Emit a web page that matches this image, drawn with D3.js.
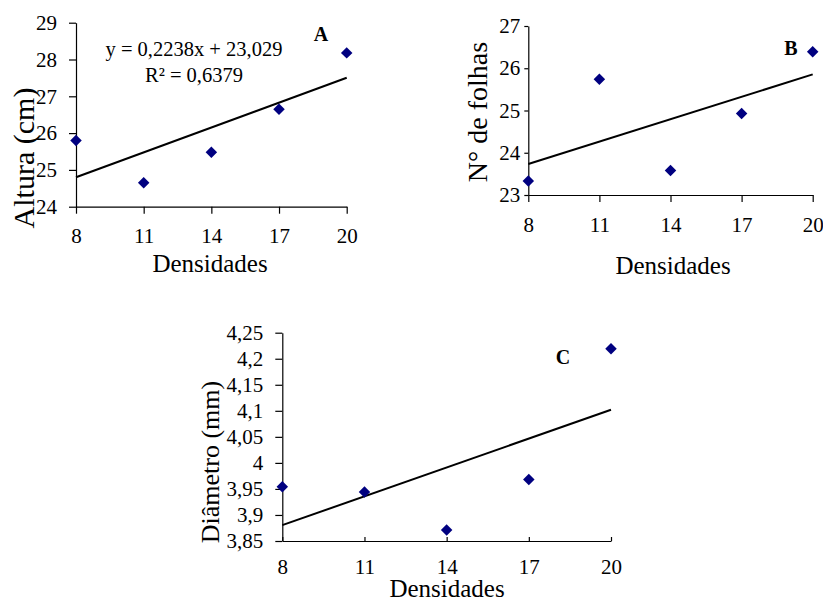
<!DOCTYPE html>
<html>
<head>
<meta charset="UTF-8">
<title>Densidades</title>
<script src="https://d3js.org/d3.v7.min.js"></script>
<style>
  body { margin: 0; background: #fff; }
  svg { display: block; }
  text { font-family: "Liberation Serif", "Times New Roman", serif; fill: #000; }
</style>
</head>
<body>
<script>
var densidades = [8, 11, 14, 17, 20];
var altura = [25.8, 24.65, 25.48, 26.65, 28.18];
var folhas = [23.33, 25.74, 23.58, 24.93, 26.39];
var diametro = [3.954, 3.944, 3.871, 3.968, 4.219];

var xTicks = [8, 11, 14, 17, 20];
var alturaTicks = [24, 25, 26, 27, 28, 29];
var folhasTicks = [23, 24, 25, 26, 27];
var diametroTicks = [3.85, 3.9, 3.95, 4, 4.05, 4.1, 4.15, 4.2, 4.25];

var eqA = ["y = 0,2238x + 23,029", "R² = 0,6379"];

var w = 823, h = 598;
var serif = "Liberation Serif, Times New Roman, serif";
var svg = d3.select("body").append("svg").attr("width", w).attr("height", h);

var fmt = function(d) { return String(+d.toFixed(2)).replace(".", ","); };

// least squares line through a panel's points
function fit(xs, ys) {
  var mx = d3.mean(xs), my = d3.mean(ys);
  var sxy = d3.sum(xs, function(x, i) { return (x - mx) * (ys[i] - my); });
  var sxx = d3.sum(xs, function(x) { return (x - mx) * (x - mx); });
  var b = sxy / sxx;
  return { b: b, a: my - b * mx };
}

function panel(p) {
  var x = d3.scaleLinear().domain([8, 20]).range([p.x0, p.x1]);
  var y = d3.scaleLinear().domain([p.ticks[0], p.ticks[p.ticks.length - 1]]).range([p.y0, p.y1]);
  var g = svg.append("g");

  var yAxis = d3.axisLeft(y).tickValues(p.ticks).tickFormat(fmt)
      .tickSize(p.ytick).tickSizeOuter(0).tickPadding(p.ypad);
  var xAxis = d3.axisBottom(x).tickValues(xTicks).tickFormat(fmt)
      .tickSizeInner(p.xtick).tickSizeOuter(0).tickPadding(p.xpad);

  g.append("g").attr("transform", "translate(0," + p.y0 + ")").call(xAxis)
      .attr("font-family", serif).attr("font-size", 21);
  g.append("g").attr("transform", "translate(" + p.x0 + ",0)").call(yAxis)
      .attr("font-family", serif).attr("font-size", 21);
  g.selectAll(".domain, .tick line").attr("stroke", "#000").attr("stroke-width", 1.2);

  var f = fit(densidades, p.values);
  g.append("line")
      .attr("x1", x(8)).attr("y1", y(f.a + f.b * 8))
      .attr("x2", x(20)).attr("y2", y(f.a + f.b * 20))
      .attr("stroke", "#000").attr("stroke-width", 2);

  g.selectAll("path.pt").data(p.values).enter().append("path")
      .attr("class", "pt")
      .attr("d", d3.symbol(d3.symbolSquare, 66))
      .attr("transform", function(d, i) { return "translate(" + x(densidades[i]) + "," + y(d) + ") rotate(45)"; })
      .attr("fill", "#000080");

  g.append("text").attr("x", p.lx).attr("y", p.ly)
      .attr("text-anchor", "middle").style("font-size", "20px").style("font-weight", "bold")
      .text(p.letter);

  g.append("text").attr("x", p.xtx).attr("y", p.xty)
      .attr("text-anchor", "middle").style("font-size", "25px").text("Densidades");

  g.append("text").attr("transform", "translate(" + p.ytx + "," + p.yty + ") rotate(-90)")
      .attr("text-anchor", "middle").attr("dy", "0.35em").style("font-size", p.yfs + "px")
      .text(p.title);
  return g;
}

var gA = panel({ x0: 76, x1: 346.7, y0: 206.7, y1: 22.7, ticks: alturaTicks, values: altura,
  ytick: 7, ypad: 12, xtick: 7, xpad: 14, letter: "A", lx: 321, ly: 41,
  xtx: 210, xty: 272, ytx: 23, yty: 158, yfs: 30, title: "Altura (cm)" });

gA.selectAll("text.eq").data(eqA).enter().append("text").attr("class", "eq")
  .attr("x", 194).attr("y", function(d, i) { return 56 + i * 26; })
  .attr("text-anchor", "middle").style("font-size", "20.5px").text(function(d) { return d; });

panel({ x0: 528.3, x1: 812.7, y0: 195, y1: 26, ticks: folhasTicks, values: folhas,
  ytick: 4, ypad: 4, xtick: 7, xpad: 15, letter: "B", lx: 791, ly: 55,
  xtx: 673, xty: 274, ytx: 477, yty: 112, yfs: 28, title: "N° de folhas" });

panel({ x0: 282.3, x1: 611, y0: 541, y1: 332.7, ticks: diametroTicks, values: diametro,
  ytick: 7, ypad: 12, xtick: -4, xpad: 18, letter: "C", lx: 563, ly: 364,
  xtx: 447, xty: 597, ytx: 210, yty: 462, yfs: 26, title: "Diâmetro (mm)" });
</script>
</body>
</html>
